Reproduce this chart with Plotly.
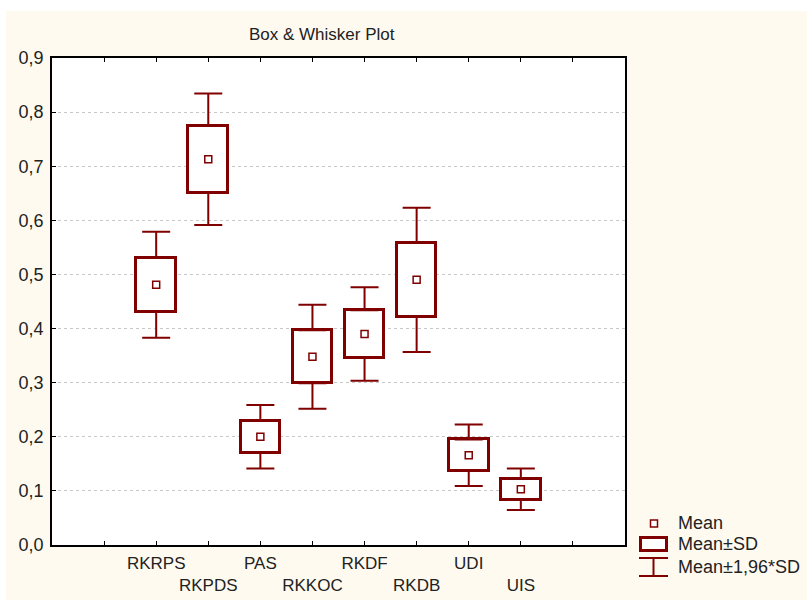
import plotly.graph_objects as go

# ---- data ----
categories = ["RKRPS", "RKPDS", "PAS", "RKKOC", "RKDF", "RKDB", "UDI", "UIS"]
means = [0.481, 0.713, 0.200, 0.348, 0.390, 0.490, 0.166, 0.103]
sds = [0.050, 0.062, 0.030, 0.049, 0.044, 0.068, 0.029, 0.0195]
ci_factor = 1.96
y_ticks = [0.0, 0.1, 0.2, 0.3, 0.4, 0.5, 0.6, 0.7, 0.8, 0.9]

# ---- styling ----
RED = "#800000"
CREAM = "#FFFAF0"
FONT = "Liberation Sans, Arial, sans-serif"
W, H = 807, 600
L, R, T, B = 52, 625, 58, 545  # plot area in px

positions = [i + 2 for i in range(len(categories))]
box_lo = [m - s for m, s in zip(means, sds)]
box_hi = [m + s for m, s in zip(means, sds)]
whisk_len = [(ci_factor - 1) * s for s in sds]

# staggered labels: odd ones on second row
tick_vals = list(range(1, len(categories) + 3))
tick_text = [""]
for i, c in enumerate(categories):
    tick_text.append(c if i % 2 == 0 else " <br>" + c)
tick_text.append("")

fig = go.Figure()

# Mean ± SD boxes
fig.add_trace(go.Bar(
    x=positions, y=[2 * s for s in sds], base=box_lo, width=0.76,
    marker=dict(color="white", line=dict(color=RED, width=3)),
    showlegend=False, hoverinfo="skip"))

# upper whiskers (from box top to mean + 1.96 SD)
fig.add_trace(go.Scatter(
    x=positions, y=box_hi, mode="markers",
    marker=dict(size=1, color="rgba(0,0,0,0)"),
    error_y=dict(type="data", symmetric=False, array=whisk_len,
                 arrayminus=[0] * len(sds), color=RED, thickness=2, width=14),
    showlegend=False, hoverinfo="skip"))

# lower whiskers
fig.add_trace(go.Scatter(
    x=positions, y=box_lo, mode="markers",
    marker=dict(size=1, color="rgba(0,0,0,0)"),
    error_y=dict(type="data", symmetric=False, array=[0] * len(sds),
                 arrayminus=whisk_len, color=RED, thickness=2, width=14),
    showlegend=False, hoverinfo="skip"))

# means
fig.add_trace(go.Scatter(
    x=positions, y=means, mode="markers",
    marker=dict(symbol="square", size=7, color="white",
                line=dict(color=RED, width=1.5)),
    showlegend=False))


def px(xp):
    return (xp - L) / (R - L)


def py(yp):
    return (B - yp) / (B - T)


shapes = [
    # white strips outside the cream panel
    dict(type="rect", xref="paper", yref="paper", x0=px(0), x1=px(W), y0=py(0), y1=py(11),
         fillcolor="white", line=dict(width=0), layer="below"),
    dict(type="rect", xref="paper", yref="paper", x0=px(0), x1=px(6), y0=py(0), y1=py(H),
         fillcolor="white", line=dict(width=0), layer="below"),
    # legend: mean symbol
    dict(type="rect", xref="paper", yref="paper", x0=px(650.5), x1=px(657.5),
         y0=py(527), y1=py(520), fillcolor="white", line=dict(color=RED, width=1.5)),
    # legend: box symbol
    dict(type="rect", xref="paper", yref="paper", x0=px(640.5), x1=px(666.5),
         y0=py(550.5), y1=py(537.5), fillcolor="white", line=dict(color=RED, width=3)),
    # legend: whisker symbol
    dict(type="line", xref="paper", yref="paper", x0=px(639), x1=px(668),
         y0=py(558), y1=py(558), line=dict(color=RED, width=2)),
    dict(type="line", xref="paper", yref="paper", x0=px(639), x1=px(668),
         y0=py(576), y1=py(576), line=dict(color=RED, width=2)),
    dict(type="line", xref="paper", yref="paper", x0=px(653.5), x1=px(653.5),
         y0=py(558), y1=py(576), line=dict(color=RED, width=2)),
]

legend_items = [("Mean", 523), ("Mean±SD", 544), ("Mean±1,96*SD", 567)]
annotations = [
    dict(text="Box & Whisker Plot", xref="paper", yref="paper", x=px(322), y=py(35),
         xanchor="center", yanchor="middle", showarrow=False,
         font=dict(family=FONT, size=17, color="#222222")),
]
for txt, yy in legend_items:
    annotations.append(dict(text=txt, xref="paper", yref="paper", x=px(676), y=py(yy),
                            xanchor="left", yanchor="middle", showarrow=False,
                            font=dict(family=FONT, size=18, color="#222222")))

fig.update_layout(
    width=W, height=H,
    margin=dict(l=L, r=W - R, t=T, b=H - B, pad=0, autoexpand=False),
    paper_bgcolor=CREAM, plot_bgcolor="white",
    separators=", ",
    font=dict(family=FONT, size=16, color="#222222"),
    shapes=shapes, annotations=annotations,
    bargap=0, showlegend=False,
)
fig.update_xaxes(
    range=[0, len(categories) + 3], tickvals=tick_vals, ticktext=tick_text,
    tickangle=0, automargin=False, ticklabelstandoff=2,
    ticks="inside", ticklen=4, tickcolor="black", tickwidth=1,
    showline=True, linecolor="black", linewidth=1.5, mirror="ticks",
    showgrid=False, zeroline=False, tickfont=dict(size=17))
fig.update_yaxes(
    range=[0, 0.9], tickvals=y_ticks, tickformat=".1f", automargin=False,
    ticklabelstandoff=3,
    ticks="inside", ticklen=4, tickcolor="black", tickwidth=1,
    showline=True, linecolor="black", linewidth=1.5, mirror=True,
    showgrid=True, gridcolor="#c8c8c8", griddash="dot", gridwidth=1,
    zeroline=False, tickfont=dict(size=18))

fig.write_html("out.html", config={"displayModeBar": False},
               post_script="document.body.style.margin='0px';document.body.style.overflow='hidden';")
